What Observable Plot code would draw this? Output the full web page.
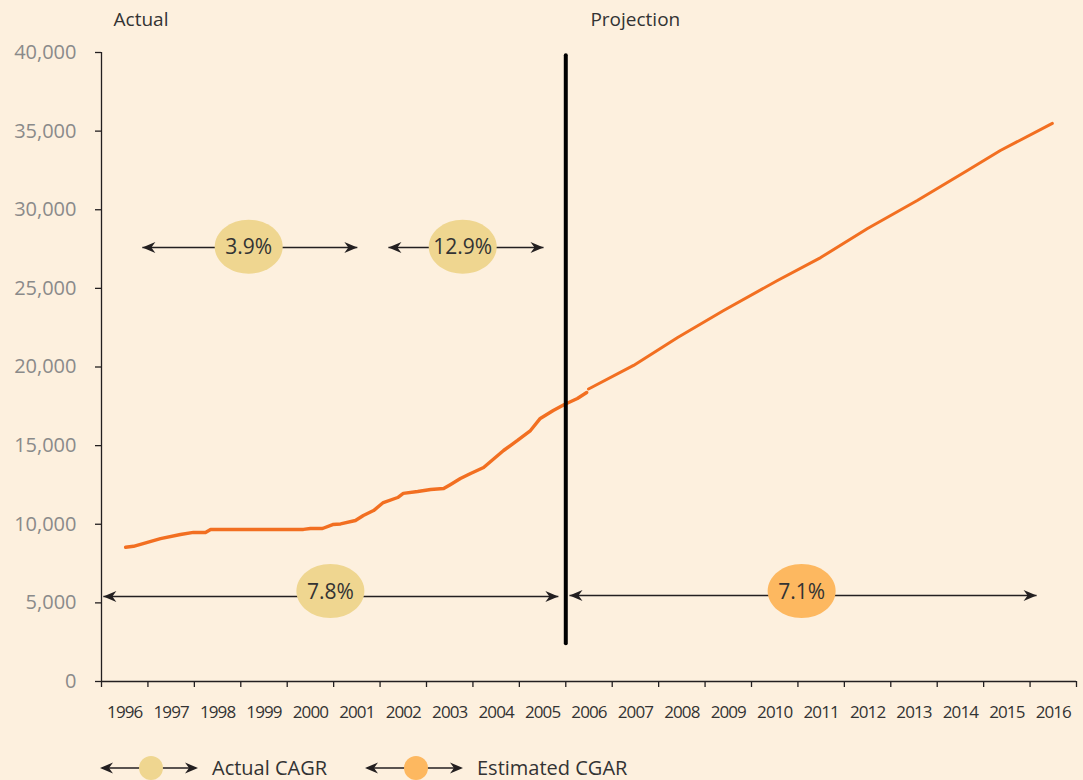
<!DOCTYPE html>
<html><head><meta charset="utf-8">
<script src="https://cdn.jsdelivr.net/npm/d3@7"></script>
<script src="https://cdn.jsdelivr.net/npm/@observablehq/plot@0.6"></script>
<style>
html,body{margin:0;padding:0;background:#fdf0de;}
#chart{width:1083px;height:780px;overflow:hidden;position:relative;font-family:"Open Sans",sans-serif;background:#fdf0de;}
#chart svg{display:block;}
</style></head><body><div id="chart"></div>
<script>
// ---- data ----
const yearLabels = [1996,1997,1998,1999,2000,2001,2002,2003,2004,2005,2006,2007,2008,2009,2010,2011,2012,2013,2014,2015,2016];
const yTicks = [0,5000,10000,15000,20000,25000,30000,35000,40000];

const actualYears = [1996.52,1996.69,1997.27,1997.70,1997.98,1998.24,1998.35,2000.35,2000.50,2000.76,2000.98,2001.15,2001.47,2001.64,2001.86,2002.07,2002.38,2002.50,2002.81,2003.09,2003.37,2003.52,2003.73,2003.95,2004.23,2004.66,2004.96,2005.24,2005.45,2005.73,2005.97,2006.25,2006.45];
const actualValues = [8540,8600,9090,9350,9480,9480,9670,9670,9730,9730,9980,10020,10240,10560,10870,11380,11700,11960,12080,12210,12270,12530,12910,13230,13610,14690,15330,15960,16730,17230,17620,18000,18380];

const projYears = [2006.49,2007.46,2008.41,2009.40,2010.56,2011.49,2012.50,2013.57,2014.65,2015.36,2016.48];
const projValues = [18600,20100,21880,23590,25500,26960,28810,30590,32500,33770,35490];

const dividerYear = [2006];
const dividerFrom = 2400, dividerTo = 39800;

const sectionLabels = ["Actual","Projection"];
const sectionStart = [1996.26, 2006.53];

const cagrLabels = ["3.9%","12.9%","7.8%","7.1%"];
const cagrFrom = [1996.88,2002.18,1996.04,2006.08];
const cagrTo = [2001.51,2005.52,2005.84,2016.14];
const cagrMid = [1999.17,2003.78,2000.93,2011.08];
const cagrArrowLevel = [27600,27600,5410,5470];
const cagrBubbleLevel = [27650,27650,5750,5750];
const cagrKind = ["Actual","Actual","Actual","Estimated"];

const legendLabels = ["Actual CAGR","Estimated CGAR"];
const legendKinds = ["Actual","Estimated"];

// ---- styles ----
const LINE = "#f26f21", INK = "#231f20";
const kindColor = {Actual:"#efd690", Estimated:"#fdb860"};

const actual = actualYears.map((t,i)=>({t, v:actualValues[i]}));
const proj = projYears.map((t,i)=>({t, v:projValues[i]}));
const sections = sectionLabels.map((s,i)=>({label:s, t:sectionStart[i]}));
const cagr = cagrLabels.map((l,i)=>({label:l, from:cagrFrom[i], to:cagrTo[i], mid:cagrMid[i], level:cagrArrowLevel[i], bubble:cagrBubbleLevel[i], kind:cagrKind[i]}));

const ellipse = (rx, ry) => ({draw(ctx){
  const k = 0.5523;
  ctx.moveTo(rx,0);
  ctx.bezierCurveTo(rx, ry*k, rx*k, ry, 0, ry);
  ctx.bezierCurveTo(-rx*k, ry, -rx, ry*k, -rx, 0);
  ctx.bezierCurveTo(-rx, -ry*k, -rx*k, -ry, 0, -ry);
  ctx.bezierCurveTo(rx*k, -ry, rx, -ry*k, rx, 0);
  ctx.closePath();
}});
const headLeft = {draw(ctx){ctx.moveTo(0,0);ctx.lineTo(13,-5.5);ctx.lineTo(9,0);ctx.lineTo(13,5.5);ctx.closePath();}};
const headRight = {draw(ctx){ctx.moveTo(0,0);ctx.lineTo(-13,-5.5);ctx.lineTo(-9,0);ctx.lineTo(-13,5.5);ctx.closePath();}};

const tickYears = yearLabels.concat([yearLabels[yearLabels.length-1]+1]);

const plot = Plot.plot({
  width: 1083, height: 745,
  marginLeft: 101, marginRight: 7, marginTop: 52, marginBottom: 64,
  style: {background:"transparent", fontFamily:'"Open Sans", sans-serif', color: INK},
  x: {domain:[1996, 2017], axis:null},
  y: {domain:[0, 40000], axis:null},
  marks: [
    Plot.axisY(yTicks, {tickSize:6, tickPadding:19, tickFormat:d3.format(","), fontSize:20, fill:"#8a8a8a", stroke:INK, strokeWidth:1.3}),
    Plot.axisX(tickYears, {tickSize:6, fill:"none", stroke:INK, strokeWidth:1.3}),
    Plot.axisX(yearLabels.map(y=>y+0.5), {tickSize:0, tickPadding:24, tickFormat:d=>String(Math.round(d-0.5)), fontSize:17, fill:"#333"}),
    Plot.ruleY([0], {stroke:INK, strokeWidth:1.3}),
    Plot.ruleX([1996], {y1:0, y2:40000, stroke:INK, strokeWidth:1.3}),
    Plot.link(cagr, {x1:"from", x2:"to", y1:"level", y2:"level", stroke:INK, strokeWidth:1.5}),
    Plot.dot(cagr, {x:"from", y:"level", symbol:headLeft, fill:INK}),
    Plot.dot(cagr, {x:"to", y:"level", symbol:headRight, fill:INK}),
    Plot.dot(cagr, {x:"mid", y:"bubble", symbol:ellipse(34,27), fill:d=>kindColor[d.kind]}),
    Plot.text(cagr, {x:"mid", y:"bubble", text:"label", fontSize:21, fill:"#333", dy:1}),
    Plot.line(actual, {x:"t", y:"v", stroke:LINE, strokeWidth:3.4}),
    Plot.line(proj, {x:"t", y:"v", stroke:LINE, strokeWidth:3}),
    Plot.ruleX(dividerYear, {y1:dividerFrom, y2:dividerTo, stroke:"#000", strokeWidth:4, strokeLinecap:"round"}),
    Plot.text(sections, {x:"t", y:()=>40000, text:"label", textAnchor:"start", dy:-33, fontSize:19, fill:"#333"})
  ]
});
d3.select(plot).selectAll('g[aria-label="x-axis tick label"]').attr("letter-spacing","-0.9");
document.getElementById("chart").appendChild(plot);

// ---- legend ----
const legend = d3.select("#chart").append("svg").attr("width",1083).attr("height",35)
  .style("font-family",'"Open Sans", sans-serif');
const itemX = [100, 365];
legendLabels.forEach((lab,i)=>{
  const g = legend.append("g").attr("transform",`translate(${itemX[i]},23)`);
  g.append("line").attr("x1",2).attr("x2",96).attr("y1",0).attr("y2",0).attr("stroke",INK).attr("stroke-width",1.5);
  g.append("path").attr("d","M0,0L13,-5.5L9,0L13,5.5Z").attr("fill",INK);
  g.append("path").attr("d","M98,0L85,-5.5L89,0L85,5.5Z").attr("fill",INK);
  g.append("circle").attr("cx",51).attr("cy",0).attr("r",12).attr("fill",kindColor[legendKinds[i]]);
  g.append("text").attr("x",112).attr("y",0).attr("dy","0.35em").attr("font-size",20).attr("fill","#333").text(lab);
});
</script>
</body></html>
